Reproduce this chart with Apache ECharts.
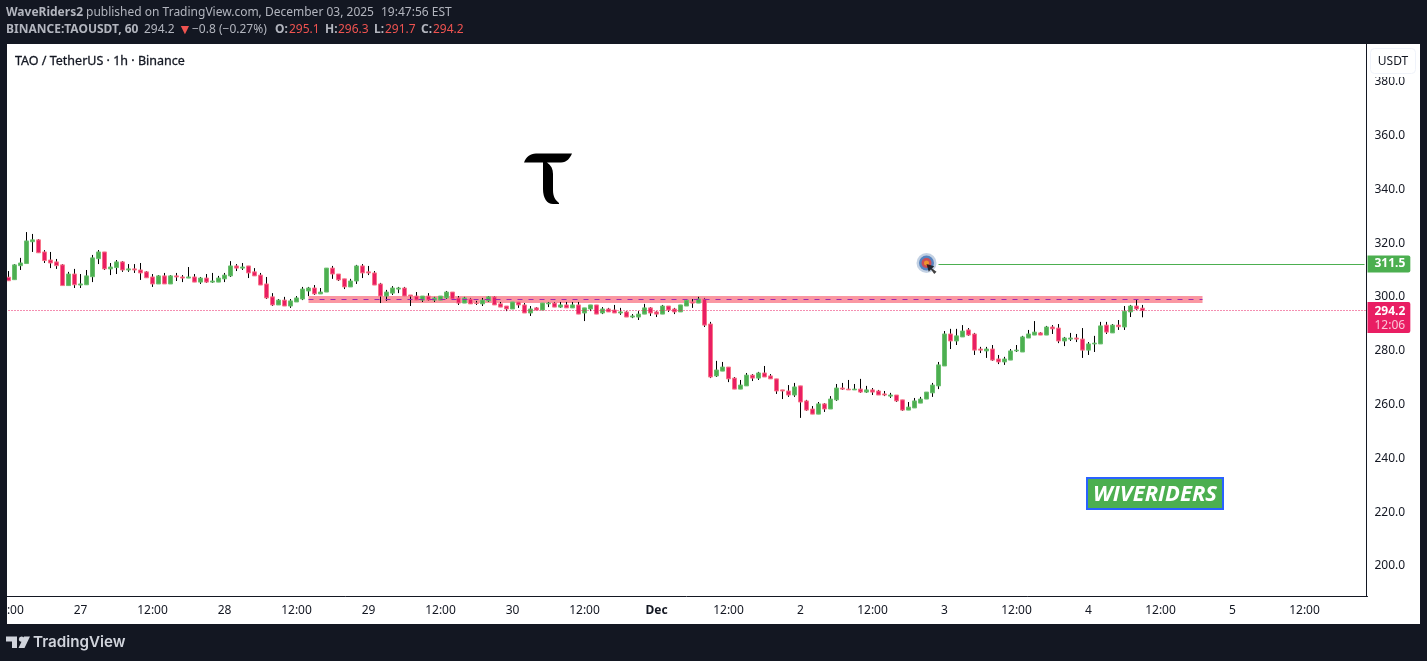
<!DOCTYPE html>
<html>
<head>
<meta charset="utf-8">
<style>
html, body { margin: 0; padding: 0; background: #131722; }
#chart-container { width: 1427px; height: 661px; }
</style>
<script src="https://cdn.jsdelivr.net/npm/echarts@6/dist/echarts.min.js"></script>
</head>
<body>
<div id="chart-container"></div>
<script>
// one label every 12 hours, the first bar is Nov 26 12:00
var timeTicks = ['12:00','27','12:00','28','12:00','29','12:00','30','12:00','Dec','12:00','2','12:00','3','12:00','4','12:00','5','12:00'];
var slotCount = 227;

// open, close, low, high
var ohlc = [
[306.6,305.3,305.3,308.9],[305.7,311.2,305.7,311.5],[310.9,311.9,309.3,313.8],[311.7,320.1,311.7,323.4],[319.8,320.5,316.0,322.7],
[320.5,315.7,315.7,320.8],[316.0,312.8,311.9,316.7],[313.0,311.9,310.0,316.0],[312.3,310.9,309.7,313.4],[311.2,303.5,303.5,311.5],
[303.5,307.8,303.5,308.6],[307.8,303.8,302.6,309.7],[303.7,304.1,302.6,307.8],[303.8,307.1,303.8,309.3],[306.8,313.8,304.8,314.9],
[313.5,316.0,311.5,316.7],[316.0,309.7,309.3,316.0],[309.7,310.4,307.4,311.9],[310.2,312.3,307.8,313.0],[312.3,309.3,308.6,312.6],
[309.3,309.7,308.6,311.5],[309.7,309.3,308.2,311.5],[309.3,308.2,305.6,311.9],[308.6,306.4,306.4,308.9],[306.7,304.1,303.0,307.8],
[304.1,307.1,304.1,307.4],[307.1,304.1,304.1,308.2],[304.1,307.1,304.1,307.4],[307.1,306.7,305.2,308.2],[306.7,306.3,304.8,307.4],
[306.3,306.7,306.3,310.4],[306.7,304.8,304.8,307.8],[304.8,306.3,304.1,306.7],[306.3,304.8,304.5,307.8],[304.8,305.2,304.5,308.2],
[304.8,306.3,304.8,307.1],[306.0,307.4,304.8,308.2],[307.1,310.8,306.7,312.6],[310.8,310.0,308.9,311.5],[310.0,310.4,309.3,311.9],
[310.8,308.2,306.3,310.8],[308.6,307.1,307.1,310.0],[307.4,303.7,303.7,308.2],[304.1,298.9,298.5,306.7],[299.3,296.3,295.9,300.7],
[296.3,298.1,296.3,298.5],[298.1,295.9,295.9,299.3],[295.9,297.8,295.2,298.5],[297.4,298.9,297.4,299.6],[298.5,302.2,298.1,303.0],
[301.5,302.6,299.6,303.0],[302.6,300.4,300.0,303.7],[300.4,301.1,300.4,302.6],[301.1,310.0,301.1,310.0],[310.0,307.8,306.0,310.8],
[307.8,305.6,305.2,307.8],[306.0,303.0,302.2,306.0],[303.0,305.2,303.0,306.0],[305.2,310.8,304.1,311.2],[310.8,308.2,306.3,311.5],
[308.6,308.2,307.4,310.8],[308.2,303.7,303.7,308.9],[304.1,299.6,297.0,304.5],[299.6,301.1,297.8,301.9],[300.7,302.6,300.0,303.3],
[302.2,302.6,300.7,303.0],[302.6,299.6,299.6,303.0],[300.0,299.6,295.9,300.0],[299.6,298.1,298.1,301.1],[298.1,299.6,297.4,299.6],
[299.6,298.1,297.8,300.7],[298.1,298.9,297.4,299.3],[298.1,299.6,298.1,299.6],[298.9,301.1,298.5,301.5],[301.1,298.5,298.5,301.1],
[298.9,297.0,296.3,299.6],[297.0,298.9,297.0,299.3],[298.5,296.7,296.7,298.9],[297.0,296.9,296.3,297.8],[296.7,298.1,295.9,298.9],
[297.8,299.3,297.4,299.6],[299.3,296.3,296.3,299.6],[296.7,295.5,295.5,297.4],[295.9,294.8,294.0,295.9],[294.8,297.4,294.8,297.4],
[297.4,296.3,295.2,297.4],[296.3,293.3,293.3,297.0],[293.3,294.8,292.2,295.9],[295.2,294.4,294.4,295.5],[294.4,297.0,294.4,297.0],
[296.7,297.0,295.5,297.4],[297.0,295.5,295.5,297.4],[295.5,296.3,295.2,297.4],[296.3,295.2,295.2,297.4],[295.2,296.3,295.2,297.4],
[296.3,292.9,292.9,297.4],[293.3,295.2,290.3,295.2],[294.8,296.3,294.0,296.3],[296.3,292.9,292.9,296.3],[293.3,294.8,292.9,295.5],
[294.8,293.7,293.7,295.2],[294.4,293.3,293.3,296.3],[293.3,293.7,292.6,295.2],[293.7,291.8,291.8,294.0],[291.8,292.2,291.4,292.9],
[291.8,292.9,290.7,294.0],[292.9,295.2,292.9,296.7],[295.2,293.3,292.2,295.5],[293.7,292.9,291.8,294.0],[292.9,295.9,292.9,296.3],
[295.9,294.4,293.7,295.9],[294.8,293.7,292.9,295.2],[293.7,296.3,293.7,296.3],[295.9,298.1,295.9,298.5],[297.4,297.0,295.2,298.5],
[297.0,298.5,297.0,299.3],[298.5,288.8,288.1,298.9],[289.2,269.5,269.1,290.0],[269.9,272.1,269.5,275.5],[271.7,273.2,271.7,275.1],
[273.2,268.8,267.6,273.2],[269.1,265.0,265.0,269.5],[265.0,266.5,265.0,268.4],[266.2,270.2,266.2,271.0],[270.2,269.1,268.0,270.6],
[269.1,271.0,268.4,271.4],[271.0,269.5,269.5,273.6],[269.9,268.8,268.8,270.6],[268.8,264.3,263.2,268.8],[264.7,264.3,261.3,264.7],
[264.3,262.8,262.1,266.5],[262.8,265.8,262.1,267.3],[266.2,260.2,254.3,266.2],[260.6,257.2,256.9,261.0],[257.6,255.7,255.7,258.7],
[255.7,259.5,255.7,260.2],[259.5,257.6,256.5,259.8],[257.6,261.3,257.6,262.4],[261.0,265.4,260.6,266.9],[265.4,265.0,264.7,267.3],
[265.0,264.7,264.7,268.4],[264.7,265.0,264.7,266.9],[265.0,263.9,263.6,268.8],[263.9,264.7,263.6,266.2],[264.7,263.9,262.8,265.4],
[264.3,262.8,262.8,264.7],[263.2,262.8,262.4,264.3],[262.4,262.8,261.7,263.6],[262.8,260.6,260.2,262.8],[261.0,257.2,256.9,261.0],
[257.2,258.3,257.2,260.2],[258.0,260.6,258.0,261.7],[259.8,261.3,259.8,262.1],[261.3,263.9,261.3,263.9],[263.6,266.5,262.1,267.3],
[266.2,274.0,265.0,275.1],[273.6,285.5,273.6,286.6],[285.5,282.9,279.9,287.4],[282.9,284.8,281.4,287.4],[284.4,286.6,284.4,288.8],
[287.0,285.1,284.8,287.7],[285.5,279.5,277.7,285.9],[279.9,279.5,278.4,280.7],[279.2,279.9,276.6,280.7],[279.9,275.8,275.5,281.4],
[276.2,275.1,274.3,277.7],[275.1,276.2,274.0,277.0],[275.8,279.2,275.8,279.9],[279.2,279.5,278.8,281.4],[278.8,284.4,278.8,284.8],
[284.0,285.5,284.0,287.0],[285.1,286.2,285.1,290.3],[285.9,285.1,285.1,286.2],[285.1,288.1,285.1,288.5],[288.1,287.4,285.5,288.8],
[287.7,282.9,282.1,289.2],[282.9,284.0,281.0,284.4],[283.6,284.0,282.9,285.9],[284.0,283.6,282.5,285.5],[283.6,279.5,276.6,287.7],
[279.5,281.8,277.7,282.5],[281.8,282.1,278.8,284.8],[281.8,288.5,281.8,290.0],[288.8,286.2,285.5,290.0],[285.9,288.8,285.9,289.2],
[288.8,288.2,287.0,290.7],[288.1,294.0,287.0,295.9],[293.7,295.9,291.8,296.3],[295.9,294.8,294.4,298.5],[295.1,294.2,291.7,296.3]
];

var lastPrice = 294.2;
var countdown = '12:06';
var targetPrice = 311.5;
var targetBar = 155;
var zoneLow = 297.0, zoneMid = 298.4, zoneHigh = 299.6;
var zoneFrom = 50, zoneTo = 199;
var markerPoint = [153, 311.9];

var categories = [];
for (var i = 0; i < slotCount; i++) {
  categories.push(i % 12 === 0 ? timeTicks[i / 12] : String(i));
}
var bodies = ohlc.map(function (d) {
  return [d[0], d[1], Math.min(d[0], d[1]), Math.max(d[0], d[1])];
});

var DARK = '#131722', RED = '#e91e63', GREEN = '#4caf50';
var FONT = '"Noto Sans", sans-serif';

// glyph shapes for the graphic component
echarts.graphic.registerShape('taoGlyph', echarts.graphic.extendPath(
  'M524 162.5C526 157 530 153.5 536 153.5L572 153.5C570 158 567 162.5 561 162.5L547 162.5C551 165 553 169 553 174L553 190C553 196 555 200 559 203L559 204L553 204C547 204 543 198 543 189L543 162.5Z'));
echarts.graphic.registerShape('tvMark', echarts.graphic.extendPath(
  'M6 636.5H17V648H12V641.5H6ZM21.5 636.5A2.6 2.6 0 1 1 21.4 636.5ZM24 636.5H30L24.5 648H18.5Z'));

var chartDom = document.getElementById('chart-container');
var myChart = echarts.init(chartDom);

function frameRect(x, y, w, h) {
  return { type: 'rect', z: 100, silent: true, shape: { x: x, y: y, width: w, height: h }, style: { fill: DARK } };
}
function txt(x, y, style) {
  return { type: 'text', z: 101, silent: true, x: x, y: y,
    style: Object.assign({ fontFamily: FONT, fontSize: 12, fill: '#b2b5be', textVerticalAlign: 'middle' }, style) };
}
function boldGrey(x, y, s) { return txt(x, y, { text: s, fontWeight: 'bold' }); }
function redNum(x, y, s) { return txt(x, y, { text: s, fill: '#ef5350' }); }

var option = {
  backgroundColor: '#ffffff',
  animation: false,
  textStyle: { fontFamily: FONT },
  // half pixel so the snapped wicks land on the same columns as the reference
  grid: { left: 5.5, top: 44, width: 1362, height: 552, containLabel: false, outerBoundsMode: 'none' },
  xAxis: {
    type: 'category',
    data: categories,
    min: 0,
    max: slotCount - 1,
    boundaryGap: true,
    axisLine: { lineStyle: { color: '#131722', width: 1 } },
    axisTick: { show: false },
    splitLine: { show: false },
    axisLabel: {
      interval: 11,
      margin: 9,
      color: '#131722',
      fontSize: 12,
      fontFamily: FONT,
      hideOverlap: false,
      showMinLabel: true,
      formatter: function (v) { return v === 'Dec' ? '{b|Dec}' : v; },
      rich: { b: { fontWeight: 'bold', fontSize: 12, color: '#131722', fontFamily: FONT } }
    }
  },
  yAxis: {
    type: 'value',
    position: 'right',
    offset: -1,
    min: 188.06,
    max: 393.34,
    splitNumber: 10,
    splitLine: { show: false },
    axisTick: { show: false },
    axisLine: { show: true, lineStyle: { color: '#131722', width: 1 } },
    axisLabel: {
      margin: 8,
      showMinLabel: false,
      showMaxLabel: false,
      formatter: function (v) { return '{p|' + v.toFixed(1) + '}'; },
      rich: { p: { color: '#131722', fontSize: 12, fontFamily: FONT, padding: [4, 0, 0, 0] } }
    }
  },
  series: [
    {
      // zone and price lines live under the candles
      type: 'line',
      z: 1,
      data: [],
      silent: true,
      markArea: {
        silent: true,
        itemStyle: { color: '#fa98a2', opacity: 1 },
        data: [[{ xAxis: zoneFrom, yAxis: zoneHigh }, { xAxis: zoneTo, yAxis: zoneLow }]]
      },
      markLine: {
        silent: true,
        symbol: 'none',
        animation: false,
        data: [
          [
            { coord: [zoneFrom, zoneMid], lineStyle: { color: '#9c27b0', width: 1, type: [5, 6] }, label: { show: false } },
            { coord: [zoneTo, zoneMid] }
          ]
        ]
      }
    },
    {
      name: 'wicks',
      type: 'candlestick',
      z: 3,
      barWidth: 1,
      data: ohlc,
      silent: true,
      itemStyle: { color: '#000', color0: '#000', borderColor: '#000', borderColor0: '#000', borderWidth: 1 },
      markLine: {
        silent: true,
        symbol: 'none',
        animation: false,
        precision: 1,
        data: [
          {
            yAxis: lastPrice,
            lineStyle: { color: RED, width: 1, type: [1, 2] },
            label: {
              position: 'end', distance: 0, offset: [0, 7], formatter: '{a|' + lastPrice.toFixed(1) + '}\n{c|' + countdown + '}',
              backgroundColor: RED, borderRadius: [0, 2, 2, 0], padding: [2, 5, 1, 7],
              rich: {
                a: { color: '#fff', fontSize: 12, fontWeight: 'bold', lineHeight: 14, fontFamily: FONT },
                c: { color: '#fbc6d8', fontSize: 12, lineHeight: 14, fontFamily: FONT }
              }
            }
          },
          [
            {
              coord: [targetBar, targetPrice],
              lineStyle: { color: GREEN, width: 1, type: 'solid' },
              label: {
                position: 'end', distance: 3, formatter: targetPrice.toFixed(1), color: '#fff', fontSize: 12, fontWeight: 'bold',
                fontFamily: FONT, backgroundColor: GREEN, borderRadius: [0, 2, 2, 0], padding: [2, 5, 1, 7], lineHeight: 14
              }
            },
            { coord: [slotCount - 1, targetPrice] }
          ]
        ]
      }
    },
    {
      name: 'bodies',
      type: 'candlestick',
      z: 4,
      barWidth: 4,
      data: bodies,
      silent: true,
      itemStyle: { color: GREEN, color0: RED, borderColor: '#6cbf70', borderColor0: '#f8768a', borderWidth: 1 }
    },
    // target marker, drawn as stacked rings
    { type: 'scatter', z: 5, silent: true, symbolSize: 20, data: [markerPoint], itemStyle: { color: '#b4c6dc' } },
    { type: 'scatter', z: 6, silent: true, symbolSize: 15, data: [markerPoint], itemStyle: { color: '#3b6fb5' } },
    { type: 'scatter', z: 7, silent: true, symbolSize: 10, data: [markerPoint], itemStyle: { color: '#e8403c' } },
    { type: 'scatter', z: 8, silent: true, symbolSize: 5, data: [markerPoint], itemStyle: { color: '#f5a623' } },
    {
      type: 'scatter', z: 9, silent: true, data: [markerPoint],
      symbol: 'path://M0 0L7 2L5 4L9 7L7 9L4 5L2 7Z', symbolSize: 10, symbolOffset: [5, 6],
      itemStyle: { color: '#111' }
    }
  ],
  graphic: [
    frameRect(0, 0, 1427, 44),
    frameRect(0, 624, 1427, 37),
    frameRect(0, 44, 7, 580),
    frameRect(1420, 44, 7, 580),
    // USDT header hides the top of the price scale
    { type: 'rect', z: 50, silent: true, shape: { x: 1368, y: 44, width: 52, height: 33 }, style: { fill: '#fff' } },
    { type: 'rect', z: 51, silent: true, shape: { x: 1370.5, y: 48.5, width: 45, height: 25, r: 4 }, style: { fill: '#fff', stroke: '#f0f3fa', lineWidth: 1 } },
    { type: 'text', z: 52, silent: true, x: 1393, y: 62,
      style: { text: 'USDT', fontFamily: FONT, fontSize: 12, fill: '#131722', textAlign: 'center', textVerticalAlign: 'middle' } },
    // title
    { type: 'text', z: 51, silent: true, x: 15, y: 61,
      style: { text: 'TAO / TetherUS · 1h · Binance', fontFamily: FONT, fontSize: 12.5, fill: '#131722', stroke: '#131722', lineWidth: 0.3, textVerticalAlign: 'middle' } },
    // TAO glyph
    { type: 'taoGlyph', z: 20, silent: true, style: { fill: '#000' } },
    // watermark badge
    { type: 'rect', z: 20, silent: true, shape: { x: 1087, y: 478, width: 136, height: 31 }, style: { fill: GREEN, stroke: '#2962ff', lineWidth: 2 } },
    { type: 'text', z: 21, silent: true, x: 1155, y: 495,
      style: { text: 'WIVERIDERS', fontFamily: '"Open Sans", sans-serif', fontStyle: 'italic', fontWeight: 'bold', fontSize: 22, fill: '#fff', textAlign: 'center', textVerticalAlign: 'middle' } },
    // header lines
    boldGrey(6, 13, 'WaveRiders2'),
    txt(86, 13, { text: 'published on TradingView.com, December 03, 2025' }),
    txt(381, 13, { text: '19:47:56 EST' }),
    boldGrey(6, 30, 'BINANCE:TAOUSDT, 60'),
    txt(144, 30, { text: '294.2' }),
    txt(178, 30, { text: '▼', fontSize: 14, fill: '#ef5350' }),
    txt(192, 30, { text: '−0.8 (−0.27%)' }),
    boldGrey(275, 30, 'O:'), redNum(289, 30, '295.1'),
    boldGrey(325, 30, 'H:'), redNum(338, 30, '296.3'),
    boldGrey(374, 30, 'L:'), redNum(385, 30, '291.7'),
    boldGrey(421, 30, 'C:'), redNum(433, 30, '294.2'),
    // TradingView mark and name
    { type: 'tvMark', z: 101, silent: true, style: { fill: '#d1d4dc' } },
    txt(33, 642, { text: 'TradingView', fontFamily: 'Inter, sans-serif', fontSize: 15.2, fontWeight: 600, fill: '#d1d4dc' })
  ]
};

option && myChart.setOption(option);
</script>
</body>
</html>
